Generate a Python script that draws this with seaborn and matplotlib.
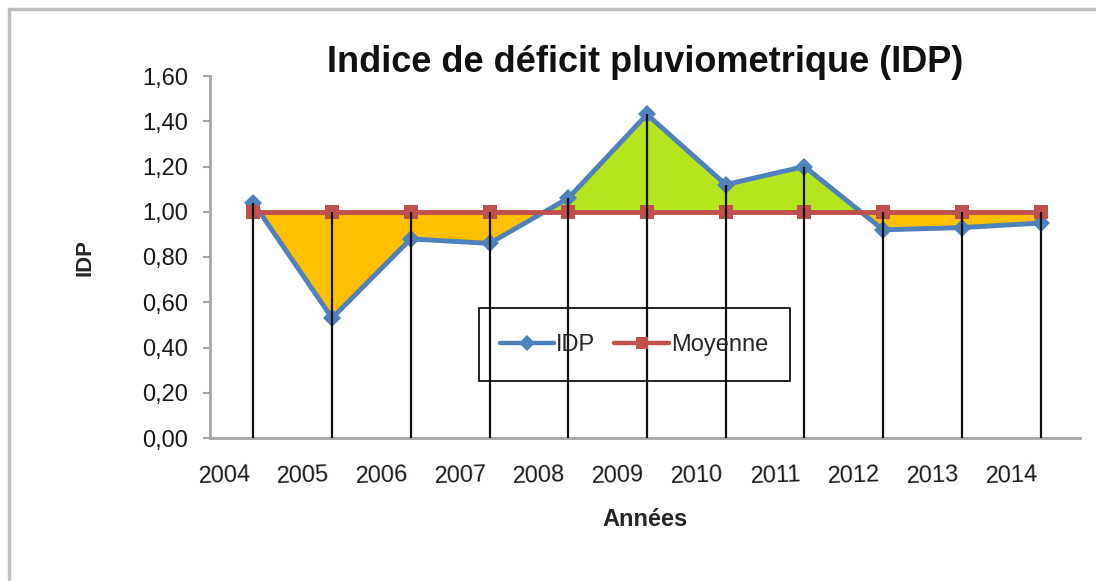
import matplotlib
matplotlib.use("Agg")
import matplotlib.pyplot as plt
import seaborn as sns
import numpy as np
import pandas as pd
from matplotlib.lines import Line2D
from matplotlib.patches import Rectangle
import matplotlib.transforms as mtransforms

# ---- data ----
years = [2004, 2005, 2006, 2007, 2008, 2009, 2010, 2011, 2012, 2013, 2014]
year_labels = [str(y) for y in years]
idp = [1.04, 0.53, 0.88, 0.86, 1.06, 1.43, 1.12, 1.20, 0.92, 0.93, 0.95]
moyenne = [1.00, 1.00, 1.00, 1.00, 1.00, 1.00, 1.00, 1.00, 1.00, 1.00, 1.00]
y_ticks = [0.0, 0.2, 0.4, 0.6, 0.8, 1.0, 1.2, 1.4, 1.6]
y_tick_labels = ["0,00", "0,20", "0,40", "0,60", "0,80", "1,00", "1,20", "1,40", "1,60"]

title = "Indice de déficit pluviometrique (IDP)"
xlabel = "Années"
ylabel = "IDP"

BLUE = "#4F81BD"
RED = "#C0504D"
ORANGE = "#FFC000"
GREEN = "#B5E61D"

sns.set_theme(style="white")
plt.rcParams["font.family"] = ["Liberation Sans", "DejaVu Sans"]

df = pd.DataFrame({
    "Année": years * 2,
    "Valeur": idp + moyenne,
    "Série": ["IDP"] * len(years) + ["Moyenne"] * len(years),
})

fig = plt.figure(figsize=(10.96, 5.81), dpi=100)
ax = fig.add_axes([210 / 1096, 1 - 438 / 581, 870 / 1096, 362 / 581])

x = np.array(years, dtype=float)
a = np.array(idp)
m = np.array(moyenne)

# fills
ax.fill_between(x, a, m, where=a <= m, interpolate=True, color=ORANGE, lw=0, zorder=1)
ax.fill_between(x, a, m, where=a >= m, interpolate=True, facecolor=GREEN,
                edgecolor="#FFFF00", lw=1.5, zorder=1)

sns.lineplot(data=df, x="Année", y="Valeur", hue="Série", style="Série",
             palette={"IDP": BLUE, "Moyenne": RED},
             markers={"IDP": "D", "Moyenne": "s"}, dashes=False,
             markersize=9.5, linewidth=3.5, markeredgewidth=0,
             legend=False, ax=ax, zorder=3)
lines = ax.get_lines()
if len(lines) >= 2:
    lines[0].set_zorder(2)
    lines[1].set_zorder(3)

# drop lines
tops = np.maximum(a, m)
ax.vlines(x, 0, tops, colors="#111111", lw=1.6, zorder=4)

ax.set_xlim(2003.45, 2014.5)
ax.set_ylim(0, 1.6)
ax.set_yticks(y_ticks)
ax.set_yticklabels(y_tick_labels)
ax.set_xticks(years)
ax.set_xticklabels(year_labels, ha="right", rotation=2, rotation_mode="anchor")

for s in ["top", "right"]:
    ax.spines[s].set_visible(False)
for s in ["left", "bottom"]:
    ax.spines[s].set_color("#A6A6A6")
    ax.spines[s].set_linewidth(2)

ax.tick_params(axis="y", direction="out", length=5, width=1.5, color="#A6A6A6",
               labelsize=17, pad=11, left=True, labelcolor="#1a1a1a")
ax.tick_params(axis="x", length=0, labelsize=17, pad=19, labelcolor="#1a1a1a")
offset = mtransforms.ScaledTranslation(-3 / 100, 0, fig.dpi_scale_trans)
for lab in ax.get_xticklabels():
    lab.set_transform(lab.get_transform() + offset)

ax.set_xlabel(xlabel, fontsize=17, fontweight="bold", labelpad=14)
ax.set_ylabel(ylabel, fontsize=16, fontweight="bold", labelpad=33)
fig.text(645 / 1096, 1 - 63 / 581, title, ha="center", va="center",
         fontsize=26, fontweight="bold", color="#111111")

# legend
handles = [
    Line2D([], [], color=BLUE, marker="D", markersize=8, lw=3.2, markeredgewidth=0),
    Line2D([], [], color=RED, marker="s", markersize=8, lw=3.2, markeredgewidth=0),
]
ax.legend(handles, ["IDP", "Moyenne"], loc="center",
          bbox_to_anchor=((634 - 210) / 870, (438 - 345) / 362),
          ncol=2, frameon=False, fontsize=17, handlelength=2.3,
          handletextpad=0.1, columnspacing=0.8)
ax.add_patch(Rectangle(((479 - 210) / 870, (438 - 381) / 362), 311 / 870, 73 / 362,
                       transform=ax.transAxes, fill=False, edgecolor="#111111",
                       lw=1.3, zorder=5, clip_on=False))

# outer chart border (left and top visible)
fig.add_artist(Line2D([9 / 1096, 9 / 1096], [0, 1 - 9 / 581], color="#BFBFBF", lw=2.5,
                      transform=fig.transFigure))
fig.add_artist(Line2D([9 / 1096, 1], [1 - 9 / 581, 1 - 9 / 581], color="#BFBFBF", lw=2.5,
                      transform=fig.transFigure))

fig.savefig("out.png", dpi=100)
